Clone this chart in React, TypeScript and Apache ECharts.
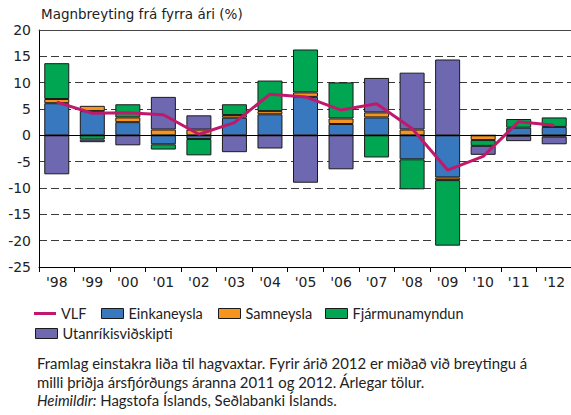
import React, { useEffect, useRef } from "react";
import * as echarts from "echarts";

const years = ["'98", "'99", "'00", "'01", "'02", "'03", "'04", "'05", "'06", "'07", "'08", "'09", "'10", "'11", "'12"];
const vlf = [6.3, 4.2, 4.3, 3.9, 0.2, 2.4, 7.8, 7.3, 4.8, 6.0, 1.3, -6.6, -4.0, 2.6, 1.9];
const einkaneysla = [6.1, 4.6, 2.5, -1.7, -0.7, 3.35, 4.0, 7.3, 2.15, 3.4, -4.55, -8.0, 0, 1.45, 1.6];
const samneysla = [0.8, 1.0, 0.9, 1.1, 1.1, 0.5, 0.6, 0.85, 1.05, 0.95, 1.1, -0.5, -0.9, -0.1, -0.25];
const fjarmunamyndun = [6.8, -0.8, 2.5, -1.0, -3.1, 2.05, 5.8, 8.15, 6.85, -4.2, -5.7, -12.45, -1.1, 1.65, 1.8];
const utanrikis = [-7.4, -0.5, -1.9, 6.2, 2.7, -3.2, -2.5, -9.0, -6.45, 6.55, 10.8, 14.4, -1.7, -1.0, -1.45];

const title = "Magnbreyting frá fyrra ári (%)";
const footer1 = "Framlag einstakra liða til hagvaxtar. Fyrir árið 2012 er miðað við breytingu á";
const footer2 = "milli þriðja ársfjórðungs áranna 2011 og 2012. Árlegar tölur.";
const footer3Italic = "Heimildir:";
const footer3 = " Hagstofa Íslands, Seðlabanki Íslands.";

const C_BLUE = "#3878BE";
const C_ORANGE = "#F7941D";
const C_GREEN = "#00A652";
const C_PURPLE = "#6E68B0";
const C_LINE = "#C0186A";

const AXIS_FONT = "DejaVu Sans";
const TEXT_FONT = "Lato";
const FOOT_SIZE = 14.9;

export default function App() {
  const ref = useRef<HTMLDivElement>(null);
  useEffect(() => {
    if (!ref.current) return;
    const chart = echarts.init(ref.current, null, { renderer: "svg" });
    const barBase = (name: string, data: number[], color: string, extra: any = {}) => ({
      name,
      type: "bar",
      stack: "total",
      data,
      barWidth: 25,
      z: 2,
      itemStyle: { color, borderColor: "#1a1a1a", borderWidth: 1 },
      emphasis: { disabled: true },
      ...extra,
    });
    const legendCommon = {
      orient: "horizontal",
      padding: 0,
      itemWidth: 22,
      itemHeight: 10,
      itemGap: 0,
      selectedMode: false,
      textStyle: { fontFamily: TEXT_FONT, fontSize: 14.5, color: "#222" },
    };
    const boxStyle = { borderColor: "#1a1a1a", borderWidth: 1 };
    const option: any = {
      animation: false,
      grid: { left: 39, right: -1, top: 30, bottom: 148, containLabel: false, outerBoundsMode: "none" },
      xAxis: [
        {
          type: "category",
          data: years,
          position: "bottom",
          axisLine: { show: true, onZero: false, lineStyle: { color: "#000", width: 1 } },
          axisTick: { show: true, length: 5, lineStyle: { color: "#000", width: 1 } },
          axisLabel: { color: "#222", fontSize: 14, fontFamily: AXIS_FONT, margin: 8 },
          splitLine: { show: false },
        },
        {
          type: "category",
          data: years,
          position: "top",
          axisLine: { show: true, onZero: false, lineStyle: { color: "#444", width: 1 } },
          axisTick: { show: false },
          axisLabel: { show: false },
          splitLine: { show: false },
        },
      ],
      yAxis: {
        type: "value",
        min: -25,
        max: 20,
        interval: 5,
        axisLine: { show: true, lineStyle: { color: "#000", width: 1 } },
        axisTick: { show: false },
        axisLabel: { color: "#222", fontSize: 14, fontFamily: AXIS_FONT, margin: 8 },
        splitLine: { show: true, lineStyle: { color: "#3a3a3a", width: 1, type: [8, 4] } },
      },
      legend: [
        { ...legendCommon, left: 34, top: 306, data: [{ name: "VLF", icon: "path://M0,0H22V3H0Z" }], itemStyle: { borderWidth: 0 } },
        { ...legendCommon, left: 101, top: 306, data: [{ name: "Einkaneysla", icon: "rect" }], itemStyle: boxStyle },
        { ...legendCommon, left: 218, top: 306, data: [{ name: "Samneysla", icon: "rect" }], itemStyle: boxStyle },
        { ...legendCommon, left: 325, top: 306, data: [{ name: "Fjármunamyndun", icon: "rect" }], itemStyle: boxStyle },
        { ...legendCommon, left: 35, top: 326, data: [{ name: "Utanríkisviðskipti", icon: "rect" }], itemStyle: boxStyle },
      ],
      series: [
        barBase("Einkaneysla", einkaneysla, C_BLUE, {
          markLine: {
            silent: true,
            symbol: "none",
            label: { show: false },
            lineStyle: { color: "#000", width: 1, type: "solid" },
            data: [{ yAxis: 0 }],
          },
        }),
        barBase("Samneysla", samneysla, C_ORANGE),
        barBase("Fjármunamyndun", fjarmunamyndun, C_GREEN),
        barBase("Utanríkisviðskipti", utanrikis, C_PURPLE),
        {
          name: "VLF",
          type: "line",
          data: vlf,
          symbol: "none",
          z: 5,
          lineStyle: { color: C_LINE, width: 3 },
          itemStyle: { color: C_LINE },
          emphasis: { disabled: true },
        },
      ],
      graphic: [
        {
          type: "text",
          x: 41,
          y: 14,
          style: { text: title, fontFamily: AXIS_FONT, fontSize: 13.5, fill: "#222", verticalAlign: "middle" },
        },
        {
          type: "text",
          x: 37,
          y: 363,
          style: { text: footer1, fontFamily: TEXT_FONT, fontSize: FOOT_SIZE, fill: "#222", verticalAlign: "middle" },
        },
        {
          type: "text",
          x: 37,
          y: 381.5,
          style: { text: footer2, fontFamily: TEXT_FONT, fontSize: FOOT_SIZE, fill: "#222", verticalAlign: "middle" },
        },
        {
          type: "text",
          x: 37,
          y: 400,
          style: {
            text: "{i|" + footer3Italic + "}{n|" + footer3 + "}",
            fontFamily: TEXT_FONT,
            fontSize: FOOT_SIZE,
            fill: "#222",
            verticalAlign: "middle",
            rich: {
              i: { fontFamily: TEXT_FONT, fontSize: FOOT_SIZE, fontStyle: "italic", fill: "#222" },
              n: { fontFamily: TEXT_FONT, fontSize: FOOT_SIZE, fill: "#222" },
            },
          },
        },
      ],
    };
    chart.setOption(option);
    return () => chart.dispose();
  }, []);
  return (
    <div
      ref={ref}
      style={{ position: "absolute", left: 0, top: 0, width: 571, height: 415, background: "#fff" }}
    />
  );
}
